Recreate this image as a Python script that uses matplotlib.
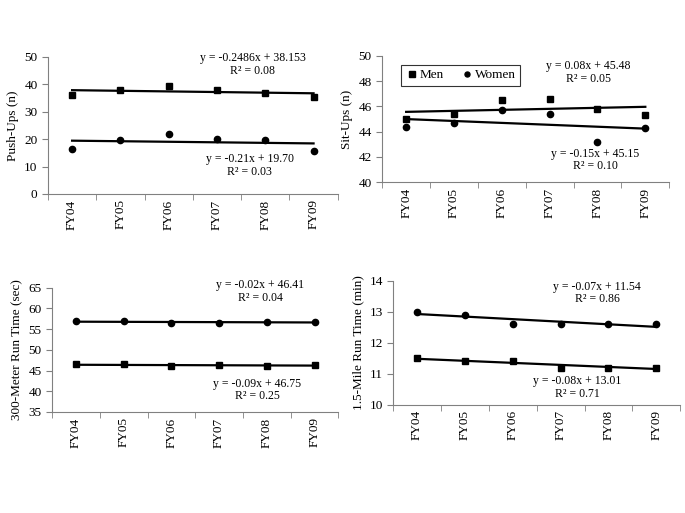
import numpy as np
import matplotlib.pyplot as plt

plt.rcParams['font.family'] = ['Liberation Serif', 'DejaVu Serif']

years = ['FY04', 'FY05', 'FY06', 'FY07', 'FY08', 'FY09']

# valori
pushups_men = [36.0, 38.0, 39.5, 38.0, 37.0, 35.3]
pushups_women = [16.5, 19.8, 22.0, 20.0, 19.8, 15.5]
situps_men = [45.0, 45.4, 46.5, 46.6, 45.8, 45.3]
situps_women = [44.4, 44.7, 45.7, 45.4, 43.2, 44.3]
run300_men = [46.5, 46.5, 46.0, 46.3, 46.1, 46.4]
run300_women = [57.0, 56.9, 56.4, 56.4, 56.8, 56.8]
mile15_men = [11.5, 11.4, 11.4, 11.2, 11.2, 11.2]
mile15_women = [13.0, 12.9, 12.6, 12.6, 12.6, 12.6]

eq_pushups = ['y = -0.2486x + 38.153\nR² = 0.08', 'y = -0.21x + 19.70\nR² = 0.03']
eq_situps = ['y = 0.08x + 45.48\nR² = 0.05', 'y = -0.15x + 45.15\nR² = 0.10']
eq_run300 = ['y = -0.02x + 46.41\nR² = 0.04', 'y = -0.09x + 46.75\nR² = 0.25']
eq_mile15 = ['y = -0.07x + 11.54\nR² = 0.86', 'y = -0.08x + 13.01\nR² = 0.71']

fig = plt.figure(figsize=(6.85, 5.13), dpi=100)

panels = [
    # rect, men, women, ylabel, ylim, step, equations, eq positions
    ([0.070, 0.622, 0.423, 0.267], pushups_men, pushups_women, 'Push-Ups (n)', (0, 50), 10,
     eq_pushups, [(0.707, 0.945), (0.697, 0.21)]),
    ([0.558, 0.645, 0.419, 0.246], situps_men, situps_women, 'Sit-Ups (n)', (40, 50), 2,
     eq_situps, [(0.718, 0.87), (0.742, 0.175)]),
    ([0.076, 0.197, 0.418, 0.242], run300_men, run300_women, '300-Meter Run Time (sec)', (35, 65), 5,
     eq_run300, [(0.727, 0.968), (0.717, 0.177)]),
    ([0.574, 0.211, 0.419, 0.242], mile15_men, mile15_women, '1.5-Mile Run Time (min)', (10, 14), 1,
     eq_mile15, [(0.711, 0.90), (0.641, 0.137)]),
]

x = np.arange(len(years))
for i, (rect, men, women, ylabel, ylim, step, eqs, pos) in enumerate(panels):
    ax = fig.add_axes(rect)
    ax.plot(x, men, 's', color='black', markersize=5, label='Men', zorder=3)
    ax.plot(x, women, 'o', color='black', markersize=4.5, label='Women', zorder=3)
    for series in (men, women):
        k, q = np.polyfit(x, series, 1)
        ax.plot(x, k * x + q, '-', color='black', linewidth=1.6)
    ax.set_xlim(-0.5, len(years) - 0.5)
    ax.set_ylim(*ylim)
    ax.set_yticks(np.arange(ylim[0], ylim[1] + step / 2, step))
    ax.set_xticks(x)
    ax.set_xticklabels(years, rotation=90, fontsize=9.5)
    ax.set_xticks(np.arange(-0.5, len(years)), minor=True)
    ax.tick_params(axis='x', which='major', length=0, pad=4)
    ax.tick_params(axis='x', which='minor', length=4, direction='out', color='#808080')
    ax.tick_params(axis='y', length=4, direction='out', color='#808080', labelsize=9.5)
    for s in ('top', 'right'):
        ax.spines[s].set_visible(False)
    for s in ('left', 'bottom'):
        ax.spines[s].set_color('#808080')
    ax.set_ylabel(ylabel, fontsize=9.5)
    for (fx, fy), eq in zip(pos, eqs):
        ax.text(fx, fy, eq, transform=ax.transAxes, ha='center', va='center',
                fontsize=8.5, linespacing=1.1)
    if i == 1:
        leg = ax.legend(loc='upper left', bbox_to_anchor=(0.042, 0.984), ncol=2,
                        fontsize=9.5, fancybox=False, handletextpad=0.1,
                        columnspacing=1.2, handlelength=1, borderpad=0.35,
                        markerscale=0.8)
        leg.get_frame().set_edgecolor('black')
        leg.get_frame().set_linewidth(0.8)

fig.savefig('out.png', dpi=100)
